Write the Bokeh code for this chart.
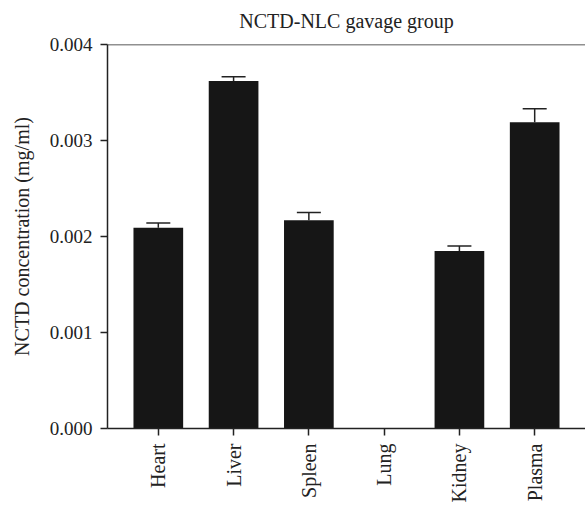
import math
from bokeh.plotting import figure
from bokeh.models import ColumnDataSource, FactorRange, FixedTicker, NumeralTickFormatter, Whisker, TeeHead, Span, Range1d, Title
from bokeh.embed import file_html
from bokeh.resources import INLINE

organs = ["Heart", "Liver", "Spleen", "Lung", "Kidney", "Plasma"]
means = [0.00209, 0.00362, 0.00217, 0.0, 0.00185, 0.00319]
errors = [0.00005, 0.000045, 0.00008, 0.0, 0.00005, 0.00014]
y_ticks = [0.0, 0.001, 0.002, 0.003, 0.004]

upper = [m + e for m, e in zip(means, errors)]
src = ColumnDataSource(dict(x=organs, top=means, upper=upper))
has_err = [i for i, e in enumerate(errors) if e > 0]
esrc = ColumnDataSource(dict(x=[organs[i] for i in has_err],
                             lower=[means[i] for i in has_err],
                             upper=[upper[i] for i in has_err]))

FONT = "Liberation Serif"
INK = "#222222"

p = figure(width=585, height=506, output_backend="svg", toolbar_location=None,
           x_range=FactorRange(factors=organs, range_padding=0.35 / 6),
           y_range=Range1d(0, 0.004),
           min_border_left=107, min_border_top=44, min_border_right=0, min_border_bottom=78)

p.vbar(x="x", top="top", width=0.66, source=src, fill_color="#161616", line_color=None)

w = Whisker(base="x", lower="lower", upper="upper", source=esrc,
            line_color=INK, line_width=1.5,
            upper_head=TeeHead(size=24, line_color=INK, line_width=1.5),
            lower_head=None)
p.add_layout(w)

p.add_layout(Span(location=0.004, dimension="width", line_color=INK, line_width=1.5))

# small empty spacer between the frame and the title
p.add_layout(Title(text=" ", text_font_size="5px", standoff=0), "above")
p.add_layout(Title(text="NCTD-NLC gavage group", align="center", text_font=FONT,
                   text_font_size="20px", text_font_style="normal", text_color=INK),
             "above")

p.outline_line_color = None
p.grid.grid_line_color = None

p.yaxis.ticker = FixedTicker(ticks=y_ticks)
p.yaxis.formatter = NumeralTickFormatter(format="0.000")
p.yaxis.axis_label = "NCTD concentration (mg/ml)"
p.yaxis.axis_label_text_font_style = "normal"
p.yaxis.axis_label_text_font = FONT
p.yaxis.axis_label_text_font_size = "20px"
p.yaxis.axis_label_text_color = INK
p.yaxis.axis_label_standoff = 14

for ax in (p.xaxis[0], p.yaxis[0]):
    ax.axis_line_color = INK
    ax.axis_line_width = 1.5
    ax.major_tick_line_color = INK
    ax.major_tick_line_width = 1.5
    ax.major_tick_out = 7
    ax.major_tick_in = 0
    ax.minor_tick_line_color = None
    ax.major_label_text_font = FONT
    ax.major_label_text_color = INK

p.xaxis.major_label_text_font_size = "20px"
p.yaxis.major_label_text_font_size = "19px"
p.xaxis.major_label_orientation = math.pi / 2
p.xaxis.major_label_standoff = 8
p.yaxis.major_label_standoff = 8

open("out.html", "w").write(file_html(p, INLINE))
